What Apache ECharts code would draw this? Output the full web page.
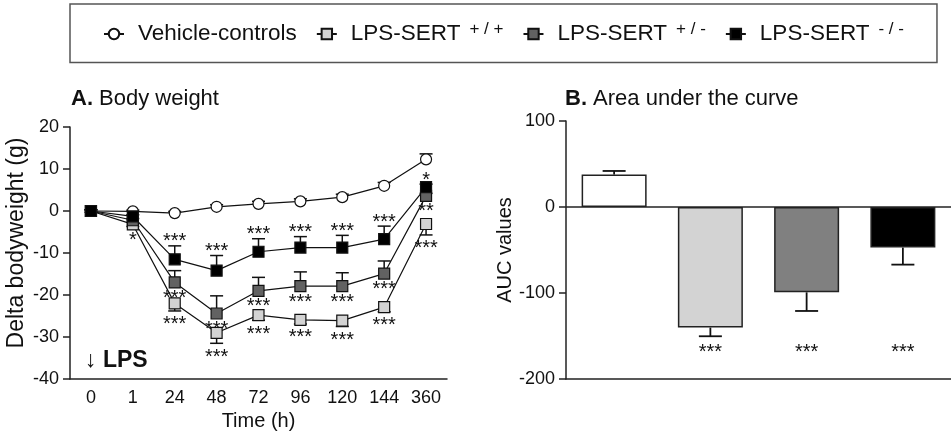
<!DOCTYPE html>
<html>
<head>
<meta charset="utf-8">
<script src="https://cdn.jsdelivr.net/npm/echarts@6/dist/echarts.min.js"></script>
<style>
  html, body { margin: 0; padding: 0; background: #fff; }
  #chart { width: 951px; height: 438px; }
</style>
</head>
<body>
<div id="chart"></div>
<script>
// ---- Body weight time course (delta, g) ----
const timeLabels = ['0', '1', '24', '48', '72', '96', '120', '144', '360'];

const vehicle    = [0, -0.1, -0.5, 1.0, 1.7, 2.3, 3.3, 6.0, 12.3];
const vehicleErr = [0.3, 0.3, 0.4, 0.5, 0.6, 0.6, 0.7, 0.8, 1.3];

const sertWT     = [0, -3.2, -22.0, -29.0, -24.8, -25.9, -26.1, -22.9, -3.1];
const sertWTErr  = [0.3, 0.5, 1.8, 2.5, 1.2, 1.0, 1.4, 1.1, 2.6];

const sertHet    = [0, -2.2, -17.0, -24.4, -19.0, -17.9, -17.9, -14.9, 3.6];
const sertHetErr = [0.3, 0.4, 2.8, 4.2, 3.2, 3.4, 3.2, 3.0, 0.6];

const sertKO     = [0, -1.3, -11.5, -14.2, -9.7, -8.7, -8.7, -6.7, 5.7];
const sertKOErr  = [0.3, 0.4, 3.2, 3.6, 3.1, 2.6, 2.9, 3.1, 0.7];

const starsWT  = ['', '*', '***', '***', '***', '***', '***', '***', '***'];
const starsHet = ['', '', '***', '***', '***', '***', '***', '***', '**'];
const starsKO  = ['', '', '***', '***', '***', '***', '***', '***', '*'];

// ---- Area under the curve ----
const aucGroups = ['Vehicle-controls', 'LPS-SERT +/+', 'LPS-SERT +/-', 'LPS-SERT -/-'];
const aucValues = [37.7, -140.2, -99.2, -47.2];
const aucErr    = [4.2, 10.1, 21.7, 19.8];
const aucStars  = ['', '***', '***', '***'];
const aucStarLevel = -165;

const FONT = '"Liberation Sans", Arial, Helvetica, sans-serif';
const INK = '#111';
const AXIS = '#222';
const COL_VEH = '#ffffff', COL_WT = '#d3d3d3', COL_HET = '#626262', COL_KO = '#000000';
const BAR_COLORS = ['#ffffff', '#d3d3d3', '#808080', '#000000'];
const STAR_SIZE = 20;

const chart = echarts.init(document.getElementById('chart'), null, { renderer: 'canvas' });

// Vertical error bar with a cap; dirFn gives +1 (up) or -1 (down)
function errorBar(values, errs, dirFn, capWidth, width) {
  return function (params, api) {
    const i = params.dataIndex;
    const v = values[i];
    const dir = dirFn(v);
    const a = api.coord([i, v]);
    const b = api.coord([i, v + dir * errs[i]]);
    const h = capWidth / 2;
    const st = { stroke: INK, lineWidth: width };
    return {
      type: 'group',
      children: [
        { type: 'line', shape: { x1: a[0], y1: a[1], x2: b[0], y2: b[1] }, style: st },
        { type: 'line', shape: { x1: b[0] - h, y1: b[1], x2: b[0] + h, y2: b[1] }, style: st }
      ]
    };
  };
}

// Significance stars placed relative to a point's value / error end
function starText(labels, posFn) {
  return function (params, api) {
    const i = params.dataIndex;
    const s = labels[i];
    if (!s) return null;
    const p = posFn(i, api);
    return {
      type: 'text',
      x: p[0], y: p[1],
      style: {
        text: s, fill: INK, align: 'center', verticalAlign: 'middle',
        font: STAR_SIZE + 'px ' + FONT
      }
    };
  };
}

const idxData = (arr) => arr.map((v, i) => [i, v]);

const lineCommon = (name, data, fill, symbol) => ({
  type: 'line', name, data,
  xAxisIndex: 0, yAxisIndex: 0,
  symbol, symbolSize: 11,
  lineStyle: { color: INK, width: 1.2 },
  itemStyle: { color: fill, borderColor: INK, borderWidth: 1.2 },
  emphasis: { disabled: true },
  animation: false, z: 3
});

const legendNames = {
  'Vehicle-controls': '{t|Vehicle-controls}',
  'LPS-SERT +/+': '{t|LPS-SERT}{s|+ / +}',
  'LPS-SERT +/-': '{t|LPS-SERT}{s|+ / -}',
  'LPS-SERT -/-': '{t|LPS-SERT}{s|- / -}'
};

const titleStyle = {
  fontSize: 22, fontWeight: 'normal', fontFamily: FONT, color: INK,
  rich: {
    b: { fontSize: 22, fontWeight: 'bold', fontFamily: FONT, color: INK },
    n: { fontSize: 22, fontFamily: FONT, color: INK }
  }
};

const option = {
  backgroundColor: '#fff',
  animation: false,
  textStyle: { fontFamily: FONT, color: INK },
  title: [
    { text: '{b|A.} {n|Body weight}', left: 71, top: 88, padding: 0, textStyle: titleStyle },
    { text: '{b|B.} {n|Area under the curve}', left: 565, top: 88, padding: 0, textStyle: titleStyle }
  ],
  legend: {
    left: 70, top: 4, width: 900,
    padding: [17, 33, 17, 33],
    borderColor: '#555', borderWidth: 1.5,
    itemWidth: 20, itemHeight: 13, itemGap: 19,
    selectedMode: false,
    data: ['Vehicle-controls', 'LPS-SERT +/+', 'LPS-SERT +/-', 'LPS-SERT -/-'],
    formatter: (name) => legendNames[name],
    textStyle: {
      fontFamily: FONT, color: INK, fontSize: 22.5,
      rich: {
        t: { fontSize: 22.5, fontFamily: FONT, color: INK, padding: [0, 0, 0, 9] },
        s: { fontSize: 17, fontFamily: FONT, color: INK, padding: [0, 0, 9, 9] }
      }
    }
  },
  grid: [
    { left: 70, right: 504, top: 127, bottom: 59, containLabel: false },
    { left: 566, right: -2, top: 121, bottom: 59, containLabel: false }
  ],
  xAxis: [
    {
      type: 'category', gridIndex: 0, data: timeLabels, boundaryGap: true,
      name: 'Time (h)', nameLocation: 'middle', nameGap: 32,
      nameTextStyle: { fontSize: 20, fontFamily: FONT, color: INK },
      axisLine: { onZero: false, lineStyle: { color: AXIS, width: 1.5 } },
      axisTick: { alignWithLabel: true, length: 6, lineStyle: { color: AXIS, width: 1.5 } },
      axisLabel: { fontSize: 18, fontFamily: FONT, color: INK, margin: 10 },
      splitLine: { show: false }
    },
    {
      type: 'category', gridIndex: 1, data: aucGroups, boundaryGap: true,
      position: 'bottom',
      axisLine: { onZero: false, lineStyle: { color: AXIS, width: 1.5 } },
      axisTick: { alignWithLabel: true, length: 6, lineStyle: { color: AXIS, width: 1.5 } },
      axisLabel: { show: false },
      splitLine: { show: false }
    }
  ],
  yAxis: [
    {
      type: 'value', gridIndex: 0, min: -40, max: 20, interval: 10,
      axisLine: { show: true, lineStyle: { color: AXIS, width: 1.5 } },
      axisTick: { show: true, length: 7, lineStyle: { color: AXIS, width: 1.5 } },
      axisLabel: { fontSize: 18, fontFamily: FONT, color: INK, margin: 11 },
      splitLine: { show: false }
    },
    {
      type: 'value', gridIndex: 1, min: -200, max: 100, interval: 100,
      name: 'AUC values', nameLocation: 'middle', nameGap: 49,
      nameTextStyle: { fontSize: 20, fontFamily: FONT, color: INK },
      axisLine: { show: true, lineStyle: { color: AXIS, width: 1.5 } },
      axisTick: { show: true, length: 7, lineStyle: { color: AXIS, width: 1.5 } },
      axisLabel: { fontSize: 18, fontFamily: FONT, color: INK, margin: 11 },
      splitLine: { show: false }
    }
  ],
  graphic: [
    {
      type: 'text', x: 17, y: 243, rotation: Math.PI / 2,
      style: {
        text: 'Delta bodyweight (g)', font: '23px ' + FONT, fill: INK,
        align: 'center', verticalAlign: 'middle'
      }
    },
    {
      type: 'text', x: 85, y: 361,
      style: { text: '↓ LPS', font: 'bold 23px ' + FONT, fill: INK, verticalAlign: 'middle' }
    }
  ],
  series: [
    // error bars (drawn beneath the markers)
    {
      type: 'custom', xAxisIndex: 0, yAxisIndex: 0, z: 1, silent: true,
      data: idxData(vehicle),
      renderItem: errorBar(vehicle, vehicleErr, () => 1, 13, 1.5)
    },
    {
      type: 'custom', xAxisIndex: 0, yAxisIndex: 0, z: 1, silent: true,
      data: idxData(sertWT),
      renderItem: errorBar(sertWT, sertWTErr, () => -1, 13, 1.5)
    },
    {
      type: 'custom', xAxisIndex: 0, yAxisIndex: 0, z: 1, silent: true,
      data: idxData(sertHet),
      renderItem: errorBar(sertHet, sertHetErr, () => 1, 13, 1.5)
    },
    {
      type: 'custom', xAxisIndex: 0, yAxisIndex: 0, z: 1, silent: true,
      data: idxData(sertKO),
      renderItem: errorBar(sertKO, sertKOErr, () => 1, 13, 1.5)
    },

    // group means
    lineCommon('Vehicle-controls', vehicle, COL_VEH, 'circle'),
    lineCommon('LPS-SERT +/+', sertWT, COL_WT, 'rect'),
    lineCommon('LPS-SERT +/-', sertHet, COL_HET, 'rect'),
    lineCommon('LPS-SERT -/-', sertKO, COL_KO, 'rect'),

    // significance stars
    {
      type: 'custom', xAxisIndex: 0, yAxisIndex: 0, z: 6, silent: true,
      data: idxData(sertWT),
      renderItem: starText(starsWT, (i, api) => {
        const p = api.coord([i, sertWT[i] - sertWTErr[i]]);
        return [p[0], p[1] + 14];
      })
    },
    {
      type: 'custom', xAxisIndex: 0, yAxisIndex: 0, z: 6, silent: true,
      data: idxData(sertHet),
      renderItem: starText(starsHet, (i, api) => {
        const p = api.coord([i, sertHet[i]]);
        return [p[0], p[1] + 16];
      })
    },
    {
      type: 'custom', xAxisIndex: 0, yAxisIndex: 0, z: 6, silent: true,
      data: idxData(sertKO),
      renderItem: starText(starsKO, (i, api) => {
        const p = api.coord([i, sertKO[i] + sertKOErr[i]]);
        return [p[0], p[1] - 4];
      })
    },

    // AUC bars
    {
      type: 'bar', xAxisIndex: 1, yAxisIndex: 1, barWidth: 65,
      data: aucValues.map((v, i) => ({
        value: v,
        itemStyle: { color: BAR_COLORS[i], borderColor: AXIS, borderWidth: 1.5 }
      })),
      emphasis: { disabled: true },
      markLine: {
        silent: true, symbol: 'none', label: { show: false },
        lineStyle: { color: AXIS, width: 1.5, type: 'solid' },
        data: [{ yAxis: 0 }]
      },
      z: 2
    },
    {
      type: 'custom', xAxisIndex: 1, yAxisIndex: 1, z: 1, silent: true,
      data: idxData(aucValues),
      renderItem: errorBar(aucValues, aucErr, (v) => (v >= 0 ? 1 : -1), 23, 1.8)
    },
    {
      type: 'custom', xAxisIndex: 1, yAxisIndex: 1, z: 6, silent: true,
      data: idxData(aucValues),
      renderItem: starText(aucStars, (i, api) => {
        const p = api.coord([i, aucStarLevel]);
        return [p[0], p[1] + 4];
      })
    }
  ]
};

chart.setOption(option);
</script>
</body>
</html>
